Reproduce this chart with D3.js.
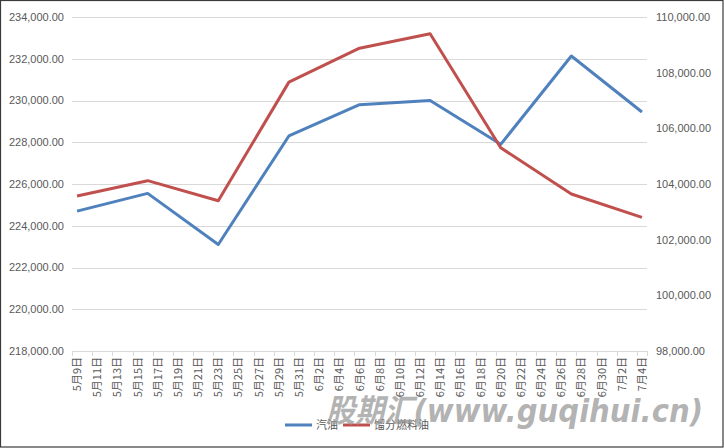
<!DOCTYPE html>
<html>
<head>
<meta charset="utf-8">
<script src="https://cdn.jsdelivr.net/npm/d3@7"></script>
<style>
  body { margin: 0; background: #fff; }
  svg { display: block; }
</style>
</head>
<body>
<div id="chart"></div>
<script>
'use strict';

// weekly observations
const dates = ["5月9日", "5月16日", "5月23日", "5月30日", "6月6日", "6月13日", "6月20日", "6月27日", "7月4日"];
const gasoline = [224700, 225550, 223100, 228300, 229800, 230000, 227900, 232130, 229450];
const distillate = [103570, 104120, 103400, 107660, 108880, 109400, 105300, 103640, 102800];

const seriesNames = ["汽油", "馏分燃料油"];
const leftTicks = [218000, 220000, 222000, 224000, 226000, 228000, 230000, 232000, 234000];
const rightTicks = [98000, 100000, 102000, 104000, 106000, 108000, 110000];
const xTickLabels = ["5月9日", "5月11日", "5月13日", "5月15日", "5月17日", "5月19日", "5月21日",
  "5月23日", "5月25日", "5月27日", "5月29日", "5月31日", "6月2日", "6月4日", "6月6日",
  "6月8日", "6月10日", "6月12日", "6月14日", "6月16日", "6月18日", "6月20日", "6月22日",
  "6月24日", "6月26日", "6月28日", "6月30日", "7月2日", "7月4日"];

(function() {

  const W = 724, H = 448;
  const plotL = 72, plotR = 647, plotT = 17, plotB = 351;
  const blue = "#4F81BD", red = "#C0504D";
  const txt = "#595959";
  const cjk = "'Noto Sans CJK SC', 'Liberation Sans', sans-serif";
  const HALF = 12 * 3600 * 1000;

  // "5月9日" -> Date
  function parseLabel(s) {
    let m = s.match(/(\d+)月(\d+)日/);
    return new Date(2000, +m[1] - 1, +m[2]);
  }

  let svg = d3.select('#chart')
    .append('svg')
    .attr('width', W)
    .attr('height', H);

  svg.append('rect')
    .attr('x', 0.5).attr('y', 0.5)
    .attr('width', W - 1.5).attr('height', H - 1.5)
    .attr('fill', '#fff')
    .attr('stroke', '#3a3a3a')
    .attr('stroke-width', 1.2);

  let first = parseLabel(xTickLabels[0]);
  let last = parseLabel(xTickLabels[xTickLabels.length - 1]);
  let x = d3.scaleTime()
    .domain([new Date(+first - HALF), new Date(+last + HALF)])
    .range([plotL, plotR]);

  let yL = d3.scaleLinear().domain([218000, 234000]).range([plotB, plotT]);
  let yR = d3.scaleLinear().domain([98000, 110000]).range([plotB, plotT]);

  let fmt = d3.format(",.2f");

  // gridlines
  svg.append('g')
    .selectAll('line')
    .data(leftTicks.slice(1))
    .enter()
    .append('line')
    .attr('x1', plotL).attr('x2', plotR)
    .attr('y1', (d) => Math.round(yL(d)) + 0.5)
    .attr('y2', (d) => Math.round(yL(d)) + 0.5)
    .attr('stroke', '#D9D9D9')
    .attr('stroke-width', 1);

  // left axis labels
  svg.append('g')
    .selectAll('text')
    .data(leftTicks)
    .enter()
    .append('text')
    .attr('x', 64)
    .attr('y', (d) => yL(d))
    .attr('dy', '0.35em')
    .attr('text-anchor', 'end')
    .style('font-family', "'Liberation Sans', Arial, sans-serif")
    .style('font-size', '11px')
    .attr('fill', txt)
    .text((d) => fmt(d));

  // right axis labels
  svg.append('g')
    .selectAll('text')
    .data(rightTicks)
    .enter()
    .append('text')
    .attr('x', 656)
    .attr('y', (d) => yR(d))
    .attr('dy', '0.35em')
    .attr('text-anchor', 'start')
    .style('font-family', "'Liberation Sans', Arial, sans-serif")
    .style('font-size', '11px')
    .attr('fill', txt)
    .text((d) => fmt(d));

  // x axis line + tick marks between labels
  let xAxis = svg.append('g');
  xAxis.append('line')
    .attr('x1', plotL).attr('x2', plotR)
    .attr('y1', plotB + 0.5).attr('y2', plotB + 0.5)
    .attr('stroke', '#D9D9D9');

  let tickDates = xTickLabels.map((s) => new Date(+parseLabel(s) - HALF));
  tickDates.push(new Date(+last + HALF));
  xAxis.selectAll('line.tick')
    .data(tickDates)
    .enter()
    .append('line')
    .attr('class', 'tick')
    .attr('x1', (d) => Math.round(x(d)) + 0.5)
    .attr('x2', (d) => Math.round(x(d)) + 0.5)
    .attr('y1', plotB)
    .attr('y2', plotB + 5)
    .attr('stroke', '#D9D9D9');

  xAxis.selectAll('text')
    .data(xTickLabels)
    .enter()
    .append('text')
    .attr('transform', (d) => 'translate(' + (x(parseLabel(d)) + 4) + ',' + (plotB + 6) + ')rotate(-90)')
    .attr('text-anchor', 'end')
    .style('font-family', cjk)
    .style('font-size', '11px')
    .attr('fill', txt)
    .text((d) => d);

  // lines
  let pts = dates.map(parseLabel);

  svg.append('path')
    .datum(gasoline)
    .attr('fill', 'none')
    .attr('stroke', blue)
    .attr('stroke-width', 3)
    .attr('stroke-linejoin', 'round')
    .attr('d', d3.line()
      .x((d, i) => x(pts[i]))
      .y((d) => yL(d)));

  svg.append('path')
    .datum(distillate)
    .attr('fill', 'none')
    .attr('stroke', red)
    .attr('stroke-width', 3)
    .attr('stroke-linejoin', 'round')
    .attr('d', d3.line()
      .x((d, i) => x(pts[i]))
      .y((d) => yR(d)));

  // legend
  let legend = svg.append('g');
  let legendItems = [{name: seriesNames[0], color: blue, x: 285}, {name: seriesNames[1], color: red, x: 343}];
  legendItems.forEach((it) => {
    legend.append('line')
      .attr('x1', it.x).attr('x2', it.x + 27)
      .attr('y1', 425).attr('y2', 425)
      .attr('stroke', it.color)
      .attr('stroke-width', 3);
    legend.append('text')
      .attr('x', it.x + 31)
      .attr('y', 425)
      .attr('dy', '0.35em')
      .style('font-family', cjk)
      .style('font-size', '11px')
      .attr('fill', txt)
      .text(it.name);
  });

  // watermark
  svg.append('text')
    .attr('x', 326)
    .attr('y', 422)
    .attr('textLength', 377)
    .attr('lengthAdjust', 'spacingAndGlyphs')
    .style('font-family', "'DejaVu Sans', 'Noto Sans CJK SC', sans-serif")
    .style('font-size', '32px')
    .style('font-weight', 'bold')
    .style('font-style', 'italic')
    .attr('fill', '#9a9a9a')
    .attr('fill-opacity', 0.75)
    .text('股期汇(www.guqihui.cn)');

})();
</script>
</body>
</html>
